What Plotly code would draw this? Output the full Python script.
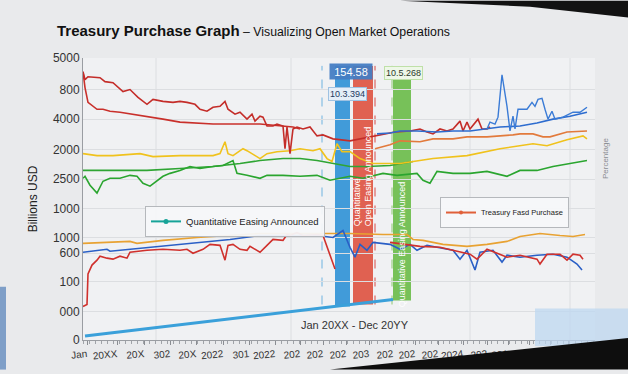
import plotly.graph_objects as go

# ---------------- data (x: time index, y: index level) ----------------
X_TICKS = [2, 17, 30.5, 43.5, 56.5, 70, 83, 96, 108.5, 120, 131.5, 143, 155, 166, 177.5, 190, 202, 212.5, 223, 233.5, 242.5, 252]
X_LABELS = ["Jan", "20XX", "20X", "302", "20X", "2022", "301", "2022", "202", "202", "202", "203",
            "202", "202", "202", "2024", "202", "201", "302", "208", "200", "20YY"]
Y_TICKS = [143, 127, 112, 96.5, 81.5, 66.5, 52, 44, 29.5, 14.5, 0]
Y_LABELS = ["5000", "800", "4000", "2000", "2500", "1000", "1000", "600", "100", "000", "0"]

red_hi_x = [0, 1, 2.5, 8.5, 11, 15, 20, 23.5, 25, 27.5, 32, 35, 40, 45, 48.5, 52, 56, 58.5, 62, 65, 68.5, 71, 72.5,
            76, 78.5, 82, 84.5, 86, 88.5, 90, 92, 95, 97, 100, 101, 102, 103.5, 105, 107, 110, 113.5, 117, 120, 125,
            133.5, 138.5, 145, 150, 156, 163.5, 168.5, 172, 175, 178.5, 182, 185, 188.5, 190, 192, 193.5, 197.5,
            199.5, 202, 203.5]
red_hi_y = [136, 132, 133.5, 133, 131, 130.5, 126, 127, 125.5, 123, 119.5, 122, 121, 120.5, 121, 120.5, 119.5, 117,
            116, 118, 118.5, 121, 117, 114.5, 115.5, 112, 114.5, 111, 113.5, 113, 108.5, 108.5, 109.5, 108.5, 97, 108,
            94.5, 107, 108, 107, 108, 103.5, 104, 102, 101, 102, 103.5, 104.5, 105.5, 106, 107, 105.5, 104.5, 107,
            106, 107, 111, 106, 110.5, 107, 112, 107, 107, 108]

red_smooth_x = [0, 1, 2.5, 7, 10, 13.5, 18.5, 32, 40, 48.5, 65, 88.5, 105, 108.5]
red_smooth_y = [136, 128, 120.5, 117, 117, 116, 115.5, 113.5, 112, 110.5, 109.5, 109.5, 108, 107]

blue_hi_x = [147, 153.5, 158.5, 167, 177, 185, 193.5, 202, 208.5, 218.5, 227, 235, 243.5, 252]
blue_hi_y = [104.5, 105, 106, 106, 105.5, 106, 106, 107, 108, 108.5, 110, 112, 113.5, 115.5]

blue_spike_x = [202, 203.5, 206, 207.5, 209.5, 211, 212, 213.5, 215, 216, 217.5, 218.5, 222, 224.5, 226, 227.5,
                229.5, 231, 232.5, 234.5, 236, 240, 245, 248.5, 252]
blue_spike_y = [107, 110.5, 109.5, 113, 134.5, 125.5, 118.5, 106, 113.5, 107, 117, 117, 117, 120.5, 118.5, 122,
                122.5, 117, 112, 116, 112, 113, 115.5, 115.5, 118]

orange_hi_x = [146, 153.5, 158.5, 168.5, 175, 185, 192, 202, 215, 218.5, 225, 230, 233.5, 242, 252]
orange_hi_y = [97, 99, 101, 100.5, 102, 102, 103, 103, 104, 104.5, 104.5, 103, 103, 105.5, 106]

yellow_x = [0, 7, 15, 28.5, 35, 48.5, 65, 68.5, 71, 72.5, 75, 80, 82, 88.5, 92, 97, 103.5, 108.5, 115, 118.5, 122,
            124.5, 127, 129.5, 133.5, 138.5, 145, 158.5, 175, 192, 208.5, 225, 232, 242, 250, 252]
yellow_y = [94.5, 93.5, 93.5, 94.5, 93, 93.5, 93.5, 94.5, 100.5, 94.5, 93.5, 97, 96, 92, 94.5, 95.5, 96, 97, 96, 97,
            92, 90.5, 99.5, 95.5, 95.5, 92, 89.5, 89.5, 92, 93.5, 97, 99.5, 98.5, 101.5, 103.5, 102]

green_smooth_x = [0, 15, 32, 48.5, 65, 78.5, 88.5, 100, 108.5, 117, 125, 133.5, 142, 153.5, 165]
green_smooth_y = [86, 86, 86, 87, 88, 89.5, 91, 92, 92, 91, 89.5, 88, 88, 88.5, 90.5]

green_x = [0, 1, 3.5, 7, 10, 13.5, 18.5, 23.5, 27, 30, 33.5, 37, 40, 43.5, 48.5, 53.5, 58.5, 65, 70, 75, 77, 82, 88.5,
           92, 100, 108.5, 117, 123.5, 133.5, 140, 150, 157, 167, 170, 173.5, 177, 185, 193.5, 202, 212, 218.5, 227,
           235, 243.5, 252]
green_y = [82, 83, 78.5, 74.5, 80.5, 82, 82, 83.5, 83, 79.5, 78, 80.5, 83, 84.5, 86, 88, 87, 88, 88.5, 91, 84.5, 83.5,
           82, 83.5, 83.5, 83, 83.5, 81, 83, 82, 84.5, 83.5, 84.5, 81, 79.5, 85.5, 84.5, 84.5, 85.5, 83, 86, 86, 88,
           89.5, 91]

orange_lo_x = [0, 15, 23.5, 27, 40, 57, 73.5, 88.5, 100, 117, 133.5, 150, 162, 165, 170, 180, 192, 202, 212, 218.5,
               228.5, 238.5, 245, 251]
orange_lo_y = [49, 49.5, 50, 49, 50.5, 52, 53, 54, 54, 54, 54, 53.5, 53.5, 51, 50.5, 48.5, 47.5, 48.5, 50, 52.5, 54,
               53, 52.5, 53.5]

blue_lo_x = [0, 12, 13.5, 23.5, 40, 57, 73.5, 88.5, 100, 117, 125, 130, 133.5, 136, 138.5, 142, 145, 153.5, 158.5,
             163.5, 167, 172, 177, 185, 188.5, 192, 196, 198.5, 205, 209.5, 212, 218.5, 227, 235, 242, 247, 249.5]
blue_lo_y = [44.5, 46, 45, 46, 48, 49.5, 51, 53, 53, 53, 52, 55.5, 47, 42, 48.5, 45.5, 49.5, 48.5, 46, 48.5, 45.5, 48,
             47, 45.5, 41, 45.5, 35.5, 44.5, 45.5, 39.5, 43, 42, 43, 43.5, 42, 38.5, 35.5]

red_lo_x = [0, 2, 2.5, 4.5, 7, 8.5, 12, 15, 18.5, 22, 23.5, 27, 32, 40, 48.5, 52, 55, 60, 63.5, 68.5, 71, 72.5, 75,
            78.5, 82, 83.5, 88.5, 92, 95, 100, 102, 103.5, 107, 110, 117, 120, 122, 124.5, 126, None, 153.5, 163.5,
            168.5, 178.5, 193.5, 197, 202, 212, 218.5, 227, 228.5, 232, 238.5, 242, 245, 248.5, 250]
red_lo_y = [17, 18, 33.5, 38, 40.5, 42.5, 41.5, 41, 42.5, 41.5, 44.5, 45, 45.5, 46, 45.5, 46, 44, 46, 48.5, 48, 40.5,
            48, 48.5, 46, 45.5, 47.5, 44.5, 48, 51, 50.5, 53.5, 53, 54.5, 53, 53.5, 53, 47, 40.5, 36, None, 49.5, 48,
            47.5, 47, 43.5, 41, 46, 42, 43, 41, 38.5, 43.5, 43.5, 40.5, 43.5, 43, 41]

base_x = [1, 58.5, 118.5, 155]
base_y = [2, 9, 16, 20.5]

EVENT_START = [126, 135, 155]
EVENT_END = [133.5, 145, 164]
EVENT_MARK = [119.5, 146, 154.5]

# ---------------- figure ----------------
L, R, T, B, W, H = 83, 33, 58, 30, 628, 374
PW, PH = W - L - R, H - T - B


def px(x):
    return (x - L) / PW


def py(y):
    return (H - B - y) / PH


fig = go.Figure()


def line(x, y, color, width=1.6, opacity=1.0):
    fig.add_trace(go.Scatter(x=x, y=y, mode="lines", line=dict(color=color, width=width),
                             opacity=opacity, showlegend=False, hoverinfo="skip", connectgaps=False))


line(base_x, base_y, "#3aa0da", 3)
line(green_smooth_x, green_smooth_y, "#2fa534")
line(green_x, green_y, "#2aa52f")
line(yellow_x, yellow_y, "#f0c21c")
line(orange_hi_x, orange_hi_y, "#e27a3c")
line(red_smooth_x, red_smooth_y, "#c9302b")
line(red_hi_x, red_hi_y, "#c42d29")
line(blue_hi_x, blue_hi_y, "#2d6ccf")
line(blue_spike_x, blue_spike_y, "#3a7bd6", 1.4)
line(orange_lo_x, orange_lo_y, "#e8a232")
line(blue_lo_x, blue_lo_y, "#2a5fc6")
line(red_lo_x, red_lo_y, "#d0312d")

fig.add_trace(go.Scatter(x=[None], y=[None], mode="lines+markers", name="Quantitative Easing Announced",
                         line=dict(color="#17a398", width=2), marker=dict(size=5, color="#17a398"),
                         legend="legend"))
fig.add_trace(go.Scatter(x=[None], y=[None], mode="lines+markers", name="Treasury Fasd Purchase",
                         line=dict(color="#e0603a", width=2), marker=dict(size=4, color="#e0603a"),
                         legend="legend2"))

shapes = []
# vertical grid lines
for gx in [36.5, 104, 193.5, 243.5]:
    shapes.append(dict(type="line", xref="x", yref="paper", x0=gx, x1=gx, y0=0, y1=1,
                       line=dict(color="#dcdee1", width=1), layer="below"))
band_colors = ["rgba(55,150,215,0.95)", "rgba(222,88,72,0.95)", "rgba(112,190,80,0.95)"]
band_bottom = [17, 18, 20]
for s, e, c, b0 in zip(EVENT_START, EVENT_END, band_colors, band_bottom):
    shapes.append(dict(type="rect", xref="x", yref="y", x0=s, x1=e, y0=b0, y1=139,
                       fillcolor=c, line=dict(width=0), layer="below"))
mark_colors = ["#6fb3e0", "#d84a44", "#8cc870"]
for m, c in zip(EVENT_MARK, mark_colors):
    shapes.append(dict(type="line", xref="x", yref="y", x0=m, x1=m, y0=18, y1=139,
                       line=dict(color=c, width=1, dash="dash"), layer="below"))

# photo-like surroundings
shapes.append(dict(type="path", xref="paper", yref="paper", layer="above",
                   path=f"M {px(400)},{py(0)} L {px(628)},{py(0)} L {px(628)},{py(17)} L {px(530)},{py(6)} Z",
                   fillcolor="#121212", line=dict(width=0)))
shapes.append(dict(type="rect", xref="paper", yref="paper", layer="above",
                   x0=px(535), x1=px(628), y0=py(350), y1=py(312),
                   fillcolor="rgba(190,215,240,0.75)", line=dict(width=0)))
shapes.append(dict(type="path", xref="paper", yref="paper", layer="above",
                   path=f"M {px(330)},{py(374)} L {px(628)},{py(342)} L {px(628)},{py(374)} Z",
                   fillcolor="#0e0e0e", line=dict(width=0)))
shapes.append(dict(type="rect", xref="paper", yref="paper", layer="above",
                   x0=px(0), x1=px(6), y0=py(374), y1=py(290),
                   fillcolor="#7f9fc8", line=dict(width=0)))

ann = []
ann.append(dict(x=134, y=136.3, xref="x", yref="y", text="154.58", showarrow=False,
                font=dict(size=11, color="white", family="Liberation Sans"),
                bgcolor="rgba(70,125,195,0.95)", width=40, height=13))
ann.append(dict(x=132, y=125, xref="x", yref="y", text="10.3.394", showarrow=False,
                font=dict(size=9, color="#1e3a60", family="Liberation Sans"),
                bgcolor="#e4eef8", bordercolor="#9fc2e2", borderwidth=1, borderpad=1))
ann.append(dict(x=160, y=135.3, xref="x", yref="y", text="10.5.268", showarrow=False,
                font=dict(size=9, color="#2c3a2c", family="Liberation Sans"),
                bgcolor="#eef7e8", bordercolor="#bfe0a8", borderwidth=1, borderpad=1))
ann.append(dict(x=140, y=83, xref="x", yref="y", text="Quantitative<br>Open Easing Announced",
                showarrow=False, textangle=-90, align="left",
                font=dict(size=9, color="white", family="Liberation Sans")))
ann.append(dict(x=159.5, y=48.5, xref="x", yref="y", text="Quantitative Easing Announced",
                showarrow=False, textangle=-90,
                font=dict(size=9, color="white", family="Liberation Sans")))
ann.append(dict(x=px(612), y=py(160), xref="paper", yref="paper", text="Percentage", showarrow=False,
                textangle=-90, font=dict(size=8, color="#8a8d92", family="Liberation Sans")))
ann.append(dict(x=px(355), y=py(337), xref="paper", yref="paper", text="Jan 20XX - Dec 20YY",
                showarrow=False, font=dict(size=11, color="#333", family="Liberation Sans")))

fig.update_layout(
    width=W, height=H,
    margin=dict(l=L, r=R, t=T, b=B),
    paper_bgcolor="#e9eaec",
    plot_bgcolor="#f0f1f3",
    title=dict(text="<span style='font-size:15px'><b>Treasury Purchase Graph</b></span> – Visualizing Open Market Operations",
               x=57 / W, xanchor="left", y=1 - 32 / H, yanchor="middle",
               font=dict(size=12.3, color="#111", family="Liberation Sans, Arial, sans-serif")),
    xaxis=dict(range=[0, 256], tickmode="array", tickvals=X_TICKS, ticktext=X_LABELS, tickangle=-6,
               ticks="outside", ticklen=4, tickcolor="#8a8d92", showgrid=False, zeroline=False,
               showline=True, linecolor="#9a9da2", linewidth=1,
               minor=dict(ticks="outside", ticklen=3, dtick=3, tickcolor="#a0a3a8", showgrid=False),
               tickfont=dict(size=10, color="#333", family="Liberation Sans")),
    yaxis=dict(range=[0, 143], tickmode="array", tickvals=Y_TICKS, ticktext=Y_LABELS,
               showgrid=True, gridcolor="#dcdee1", zeroline=False, showline=True, linecolor="#9a9da2",
               ticks="", tickfont=dict(size=12, color="#333", family="Liberation Sans"),
               title=dict(text="Billions USD", standoff=12,
                          font=dict(size=12, color="#222", family="Liberation Sans"))),
    legend=dict(x=px(145), y=py(208), xanchor="left", yanchor="top", bgcolor="rgba(246,247,249,0.95)",
                bordercolor="#b5b8bc", borderwidth=1, font=dict(size=9.5, color="#222", family="Liberation Sans"),
                itemwidth=30, tracegroupgap=0),
    legend2=dict(x=px(440), y=py(199), xanchor="left", yanchor="top", bgcolor="rgba(246,247,249,0.95)",
                 bordercolor="#b5b8bc", borderwidth=1, font=dict(size=7.5, color="#222", family="Liberation Sans"),
                 itemwidth=30),
    shapes=shapes,
    annotations=ann,
    showlegend=True,
)

fig.write_html("out.html", config={"displayModeBar": False},
               post_script="document.body.style.margin='0';document.body.style.overflow='hidden';")
